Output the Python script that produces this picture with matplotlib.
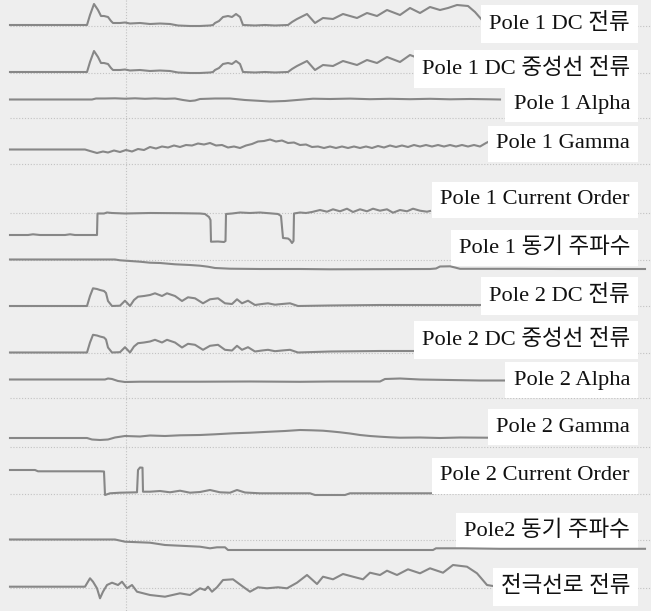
import numpy as np
import matplotlib
matplotlib.use('Agg')
from matplotlib import pyplot as plt

# oscillograph record, 13 channels
# t: time (ms from left edge of record), v: deflection (positive = up)

# Pole 1 DC current
t1 = [10, 87, 90, 94, 98, 101, 104, 108, 111, 113, 120, 125, 130, 140, 150, 160, 170, 178, 190, 200,
      210, 213, 215, 219, 223, 228, 232, 236, 240, 243, 255, 265, 275, 288, 292, 297, 307, 315, 323, 333,
      343, 350, 357, 367, 377, 387, 400, 410, 420, 430, 440, 448, 457, 468, 475, 482]
v1 = [0, 0, 10, 21, 15, 9, 9, 8, 4, 2, 2, 2.5, 1.5, 2, 1, 1.5, 1, -0.5, -1, -1,
      -0.5, 0, 2, 4, 8, 9, 8, 11, 8, 0, -0.5, 0, -0.5, 0, 3, 6, 11, 2, 7, 6,
      11, 9, 7, 12, 9, 15, 10, 17, 12, 18, 15, 17, 20, 19, 13, 5]

# Pole 1 DC neutral current
t2 = [10, 87, 90, 94, 98, 101, 104, 108, 111, 113, 120, 125, 130, 140, 150, 160, 170, 178, 190, 200,
      210, 213, 215, 219, 223, 228, 232, 236, 240, 243, 255, 265, 275, 288, 292, 297, 307, 315, 323, 333,
      343, 350, 357, 367, 377, 387, 400, 410, 418]
v2 = [0, 0, 10, 21, 15, 9, 9, 8, 4, 2, 2, 2.5, 1.5, 2, 1, 1.5, 1, -0.5, -1, -1,
      -0.5, 0, 2, 4, 8, 9, 8, 11, 8, 0, -0.5, 0, -0.5, 0, 3, 6, 11, 2, 7, 6,
      11, 9, 7, 12, 9, 15, 10, 17, 14]

# Pole 1 Alpha
t3 = [10, 92, 96, 105, 115, 125, 135, 145, 155, 165, 175, 183, 190, 195, 200, 215, 230, 245, 257, 270,
      285, 297, 313, 330, 350, 370, 390, 410, 430, 450, 470, 490, 500]
v3 = [0, 0, 1, 1, 1.2, 0.8, 1.2, 0.7, 1.1, 0.7, 1, -0.5, -1.5, -1, 0.5, 1, 1, -0.5, -1.2, -2,
      -1.5, -0.5, 0.8, 0.5, 0.9, 0.3, 0.7, 0.3, 0.7, 0.2, 0.5, 0.2, 0]

# Pole 1 Gamma
t4 = [10, 85, 90, 97, 103, 108, 114, 120, 126, 132, 138, 144, 150, 156, 162, 168, 174, 180, 186, 192,
      198, 204, 210, 216, 222, 228, 234, 240, 246, 252, 258, 264, 270, 276, 282, 288, 294, 300, 306, 312,
      318, 324, 330, 336, 342, 348, 354, 360, 366, 372, 378, 384, 390, 396, 402, 408, 414, 420, 426, 432,
      438, 444, 450, 456, 462, 468, 474, 480, 486, 490]
v4 = [0, 0, -1.5, -3.5, -2, -3, -1, -2.5, -0.5, -2, 0.5, -0.5, 2.5, 1, 3, 2, 4, 2.5, 4.5, 4,
      6, 5, 6.5, 4, 4.5, 2, 3, 1.5, 4, 5.5, 8, 8.5, 10, 8, 9, 6.5, 7, 4.5, 5, 2.5,
      3, 1.5, 3, 1.5, 3, 1.5, 3, 1.5, 3, 1.5, 3.5, 2, 4, 2.5, 4, 2.5, 4.5, 3, 4.5, 3,
      4.5, 3, 4.5, 3, 4.5, 3, 4.5, 3, 6.5, 8.5]

# Pole 1 Current Order
t5 = [10, 28, 33, 40, 65, 70, 75, 97, 97.5, 104, 107, 112, 125, 150, 180, 200, 205, 207, 209, 210.5,
      211, 218, 224, 225.5, 226, 232, 240, 250, 260, 270, 278, 281, 283, 288, 290, 292, 293.5, 294, 300, 306,
      312, 320, 327, 333, 340, 347, 353, 360, 367, 373, 380, 387, 393, 400, 407, 413, 420, 427, 430]
v5 = [0, 0, 0.7, 0, 0, 0.7, 0, 0, 21.5, 21.5, 22.5, 22, 21.5, 22, 21.8, 21.5, 21, 19.5, 18, 15,
      -6.7, -6.5, -7, -6, 21, 21.5, 22.5, 22, 22.5, 21.7, 21, 19, -3, -3.5, -5, -8, -6, 21.5, 22.5, 22,
      23, 25, 23.3, 25.7, 23.7, 26.3, 23, 25.7, 23.7, 26.3, 24.3, 25.7, 22.3, 25, 23.7, 26.3, 24.3, 23.3, 24]

# Pole 1 sync frequency
t6 = [10, 115, 120, 130, 140, 150, 160, 175, 190, 200, 208, 215, 230, 260, 300, 330, 430, 436, 440, 450,
      455, 460, 520, 560, 645]
v6 = [0, 0, -0.8, -1.5, -2.2, -3.2, -3.5, -4.8, -5.5, -6.2, -7.2, -8.5, -9.2, -9.5, -9.5, -9.8, -9.5, -9, -7, -6.8,
      -8, -9.3, -9.3, -9.5, -9.5]

# Pole 2 DC current
t7 = [10, 87, 90, 93, 97, 100, 104, 106, 108, 112, 120, 125, 130, 134, 138, 144, 150, 155, 162, 167,
      175, 182, 188, 195, 203, 210, 218, 225, 232, 237, 242, 248, 255, 262, 268, 275, 282, 290, 298, 330,
      380, 430, 487]
v7 = [0, 0, 10, 17.7, 17, 16, 15, 13, 5, 0, 0.3, 5.3, 0, 6, 9.3, 10, 11, 12.7, 10, 12.7,
      10, 5, 8.7, 7.7, 2.7, 6.7, 7.7, 2.7, 2, 6.7, 2.7, 5.3, 1, 2, 2.7, 1.3, 2, 2.7, 0, 0.5,
      1, 1, 1]

# Pole 2 DC neutral current
t8 = [10, 87, 90, 93, 97, 100, 104, 106, 108, 112, 120, 125, 130, 134, 138, 144, 150, 155, 162, 167,
      175, 182, 188, 195, 203, 210, 218, 225, 232, 237, 242, 248, 255, 262, 268, 275, 282, 290, 298, 330,
      380, 418]
v8 = [0, 0, 10, 17.7, 17, 16, 15, 13, 5, 0, 0.3, 5.3, 0, 6, 9.3, 10, 11, 12.7, 10, 12.7,
      10, 5, 8.7, 7.7, 2.7, 6.7, 7.7, 2.7, 2, 6.7, 2.7, 5.3, 1, 2, 2.7, 1.3, 2, 2.7, 0, 1,
      1.5, 1.5]

# Pole 2 Alpha
t9 = [10, 105, 108, 112, 118, 125, 140, 200, 250, 300, 330, 380, 385, 400, 420, 450, 480, 507]
v9 = [0, 0, 1, 0.5, -1.5, -2.5, -2.2, -2.2, -2, -2.3, -2, -2, 0.5, 1, 0, -0.5, -1, -1]

# Pole 2 Gamma
t10 = [10, 87, 92, 100, 108, 115, 125, 140, 150, 165, 180, 200, 215, 233, 250, 270, 285, 300, 312, 323,
       332, 340, 350, 360, 370, 380, 390, 400, 420, 440, 460, 487]
v10 = [0, 0, -1.5, -2, -1.5, 0.5, 2, 1.5, 2.5, 2, 2.7, 3, 3.7, 4.7, 5.3, 6.3, 7, 8, 7.7, 7.3,
       6.5, 5.7, 4.5, 3, 2, 1.3, 0.7, 0.3, 0.5, 0, 0.5, 0.3]

# Pole 2 Current Order
t11 = [10, 35, 38, 100, 104, 105, 110, 120, 137, 138, 140, 142.5, 143, 150, 160, 170, 180, 190, 200, 210,
       220, 230, 237, 245, 260, 310, 315, 345, 350, 433]
v11 = [0, 0, -1.3, -1.3, -1.5, -25, -23.3, -22.7, -22.3, 0, 2.5, 2.3, -21.7, -21.7, -21, -22.3, -20.7, -22.7, -22, -20,
       -22.3, -22.7, -20, -22.5, -23.3, -23.3, -25, -25, -23.3, -23.3]

# Pole 2 sync frequency
t12 = [10, 115, 125, 150, 165, 200, 210, 217, 225, 228, 300, 433, 436, 463, 500, 560, 645]
v12 = [0, 0, -2.2, -3.2, -5.5, -7.2, -8.8, -7.8, -7.8, -10.5, -10.5, -10.5, -8.8, -8.8, -9.3, -9.3, -9.3]

# electrode line current
t13 = [10, 85, 90, 93, 97, 100, 103, 107, 112, 118, 122, 127, 132, 137, 150, 165, 180, 190, 200, 205,
       208, 212, 217, 223, 233, 243, 250, 258, 267, 278, 287, 297, 307, 317, 323, 333, 343, 353, 363, 370,
       380, 387, 397, 408, 420, 430, 443, 453, 467, 477, 487, 493, 500]
v13 = [0, 0, 8.4, 5, -1.6, -11.6, -5, 1.7, 4, 1.7, 5, -1.6, 1.7, -5, -8.3, -10, -6.6, -8.3, -1.6, -3.3,
       0, -5, -0.6, 6.7, 7.4, 0, -5, -0.6, -1.6, -0.6, -1.6, 4, 11.7, 2.7, 10, 7.4, 12.7, 10, 7.4, 14,
       11.7, 16, 11.7, 17.4, 13.4, 18.4, 14, 21.7, 20, 13.4, 1.7, 0.7, 5]

labels = ['Pole 1 DC 전류', 'Pole 1 DC 중성선 전류', 'Pole 1 Alpha', 'Pole 1 Gamma',
          'Pole 1 Current Order', 'Pole 1 동기 주파수', 'Pole 2 DC 전류', 'Pole 2 DC 중성선 전류',
          'Pole 2 Alpha', 'Pole 2 Gamma', 'Pole 2 Current Order', 'Pole2 동기 주파수', '전극선로 전류']

traces = [(t1, v1), (t2, v2), (t3, v3), (t4, v4), (t5, v5), (t6, v6), (t7, v7),
          (t8, v8), (t9, v9), (t10, v10), (t11, v11), (t12, v12), (t13, v13)]

# layout: channel zero lines (from top), label centre rows, grid rows
base = [25, 72, 99.5, 149.5, 235, 259.5, 306, 352.5, 379.5, 438, 470, 539.5, 586.7]
lab_y = [24, 69, 104, 144, 200, 248, 296, 340, 380, 427, 476, 531, 587]
grid_y = [26, 72.5, 118, 164, 213, 260, 306, 353, 398, 447, 494, 540, 588]

paper = '#eeeeee'
ink = '#878787'

fig = plt.figure(figsize=(6.51, 6.11), dpi=100)
fig.patch.set_facecolor(paper)
ax = fig.add_axes([0, 0, 1, 1])
ax.set_facecolor(paper)
ax.set_xlim(0, 651)
ax.set_ylim(611, 0)
ax.axis('off')

for g in grid_y:
    ax.plot([10, 651], [g, g], color='#c2c2c2', lw=0.8, ls=(0, (1, 1.6)), zorder=1)
ax.plot([126, 126], [0, 611], color='#c2c2c2', lw=0.8, ls=(0, (1, 1.6)), zorder=1)

for i, (t, v) in enumerate(traces):
    y = base[i] - np.array(v)
    z = 4 if i in (5, 11) else 2
    ax.plot(t, y, color=ink, lw=1.5, solid_joinstyle='round', zorder=z)

for i, lab in enumerate(labels):
    ax.text(630, lab_y[i], lab, ha='right', va='center', fontsize=16.2,
            family=['Liberation Serif', 'Noto Sans CJK KR'], color='#111111',
            bbox=dict(boxstyle='square,pad=0.36', fc='white', ec='none'), zorder=3)

fig.savefig('out.png', dpi=100, facecolor=paper)
